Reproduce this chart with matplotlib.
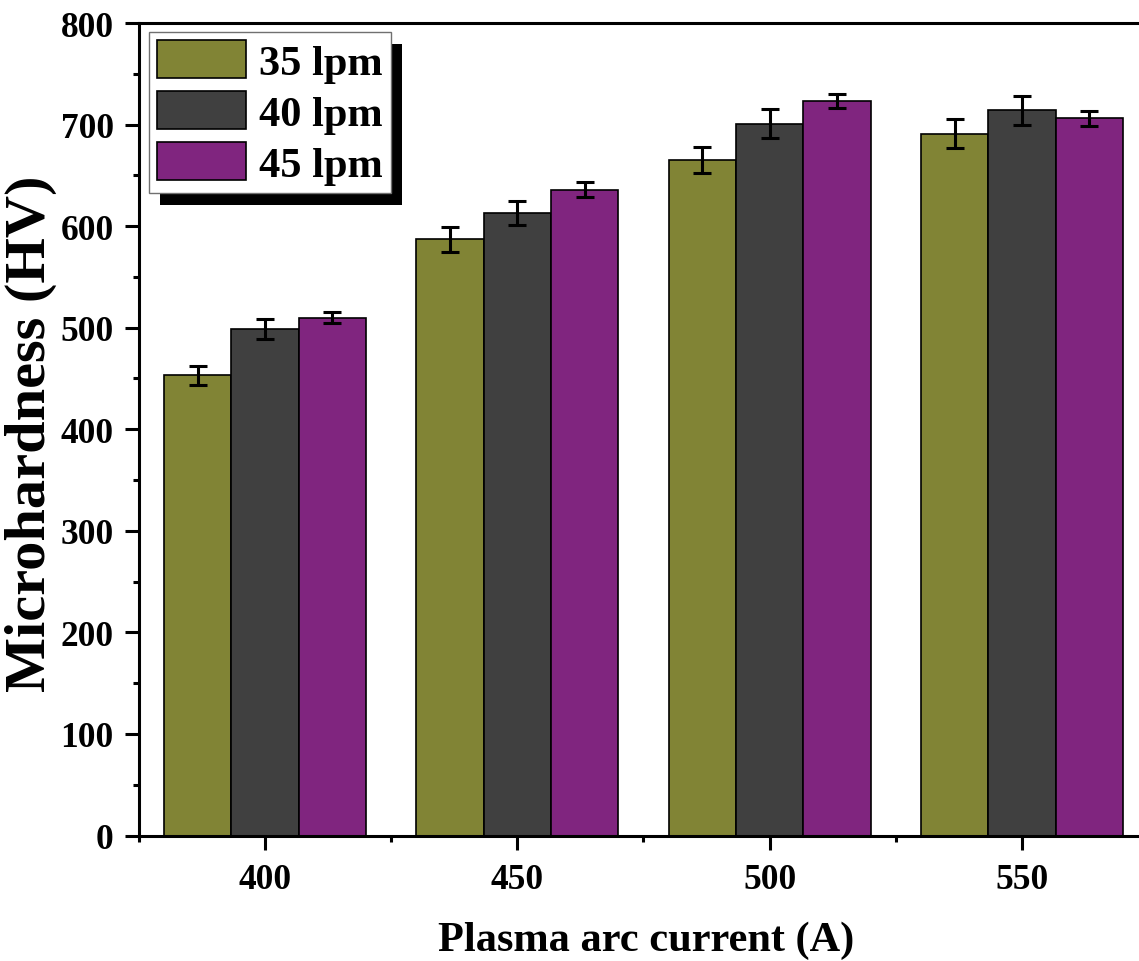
import matplotlib
matplotlib.use("Agg")
import matplotlib.pyplot as plt
import numpy as np
from matplotlib.patches import Rectangle
from matplotlib.ticker import MultipleLocator, FixedLocator

plt.rcParams['font.family'] = ['Liberation Serif', 'DejaVu Serif']
plt.rcParams['font.weight'] = 'bold'

# plasma arc current (A)
corrientes = [400, 450, 500, 550]
# microhardness per gas flow rate, with std deviation
hv_35 = [453, 587, 665, 691]
err_35 = [9, 12, 13, 14]
hv_40 = [499, 613, 701, 714]
err_40 = [10, 12, 14, 14]
hv_45 = [510, 636, 723, 706]
err_45 = [5, 7, 7, 7]
rotulos = ['35 lpm', '40 lpm', '45 lpm']
cores = ['#818435', '#404040', '#80257f']

fig = plt.figure(figsize=(11.39, 9.62), dpi=100)
ax = fig.add_axes([138.8 / 1139, 1 - 836.5 / 962, 1009.3 / 1139, 812.5 / 962])

largura = 40 / 3
x = np.array(corrientes, dtype=float)
series = [(hv_35, err_35), (hv_40, err_40), (hv_45, err_45)]
for i, (vals, errs) in enumerate(series):
    pos = x + (i - 1) * largura
    ax.bar(pos, vals, width=largura, color=cores[i], edgecolor='black',
           linewidth=1.2, label=rotulos[i], zorder=2)
    ax.errorbar(pos, vals, yerr=errs, fmt='none', ecolor='black',
                elinewidth=2.2, capsize=6.5, capthick=2.2, zorder=3)

ax.set_xlim(375, 575)
ax.set_ylim(0, 800)
ax.set_xticks(corrientes)
ax.xaxis.set_minor_locator(FixedLocator([375, 425, 475, 525]))
ax.yaxis.set_major_locator(MultipleLocator(100))
ax.yaxis.set_minor_locator(MultipleLocator(50))

for s in ax.spines.values():
    s.set_linewidth(2.2)
ax.tick_params(which='major', direction='out', length=10, width=2.2,
               labelsize=25.5)
ax.tick_params(which='minor', direction='out', length=4.5, width=2.2)
ax.tick_params(axis='y', which='major', pad=8)
ax.tick_params(axis='x', which='major', pad=10)
ax.tick_params(top=False, right=False, which='both')
for t in ax.get_xticklabels() + ax.get_yticklabels():
    t.set_fontweight('bold')

# axis titles placed in figure coordinates
fig.text(31 / 1139, 1 - 434 / 962, 'Microhardness (HV)', rotation=90,
         ha='center', va='center', fontsize=42, fontweight='bold')
fig.text(646 / 1139, 1 - 941 / 962, 'Plasma arc current (A)',
         ha='center', va='center', fontsize=30.5, fontweight='bold')

leg = ax.legend(loc='upper left', bbox_to_anchor=(149 / 1139, 1 - 33 / 962),
                bbox_transform=fig.transFigure, borderaxespad=0,
                prop={'size': 30.5, 'weight': 'bold'}, frameon=True, fancybox=False,
                framealpha=1, handlelength=2.1, handleheight=1.0,
                labelspacing=0.2, handletextpad=0.3, borderpad=0.2)
leg.get_frame().set_edgecolor('#707070')
leg.get_frame().set_linewidth(1.0)
leg.set_zorder(6)

# solid drop shadow behind the legend box
fig.canvas.draw()
bb = leg.get_window_extent()
sombra = Rectangle((bb.x0 + 11, bb.y0 - 12), bb.width, bb.height,
                   transform=None, facecolor='black', edgecolor='none', zorder=5)
ax.add_artist(sombra)
sombra.set_clip_on(False)

fig.savefig('out.png', dpi=100)
